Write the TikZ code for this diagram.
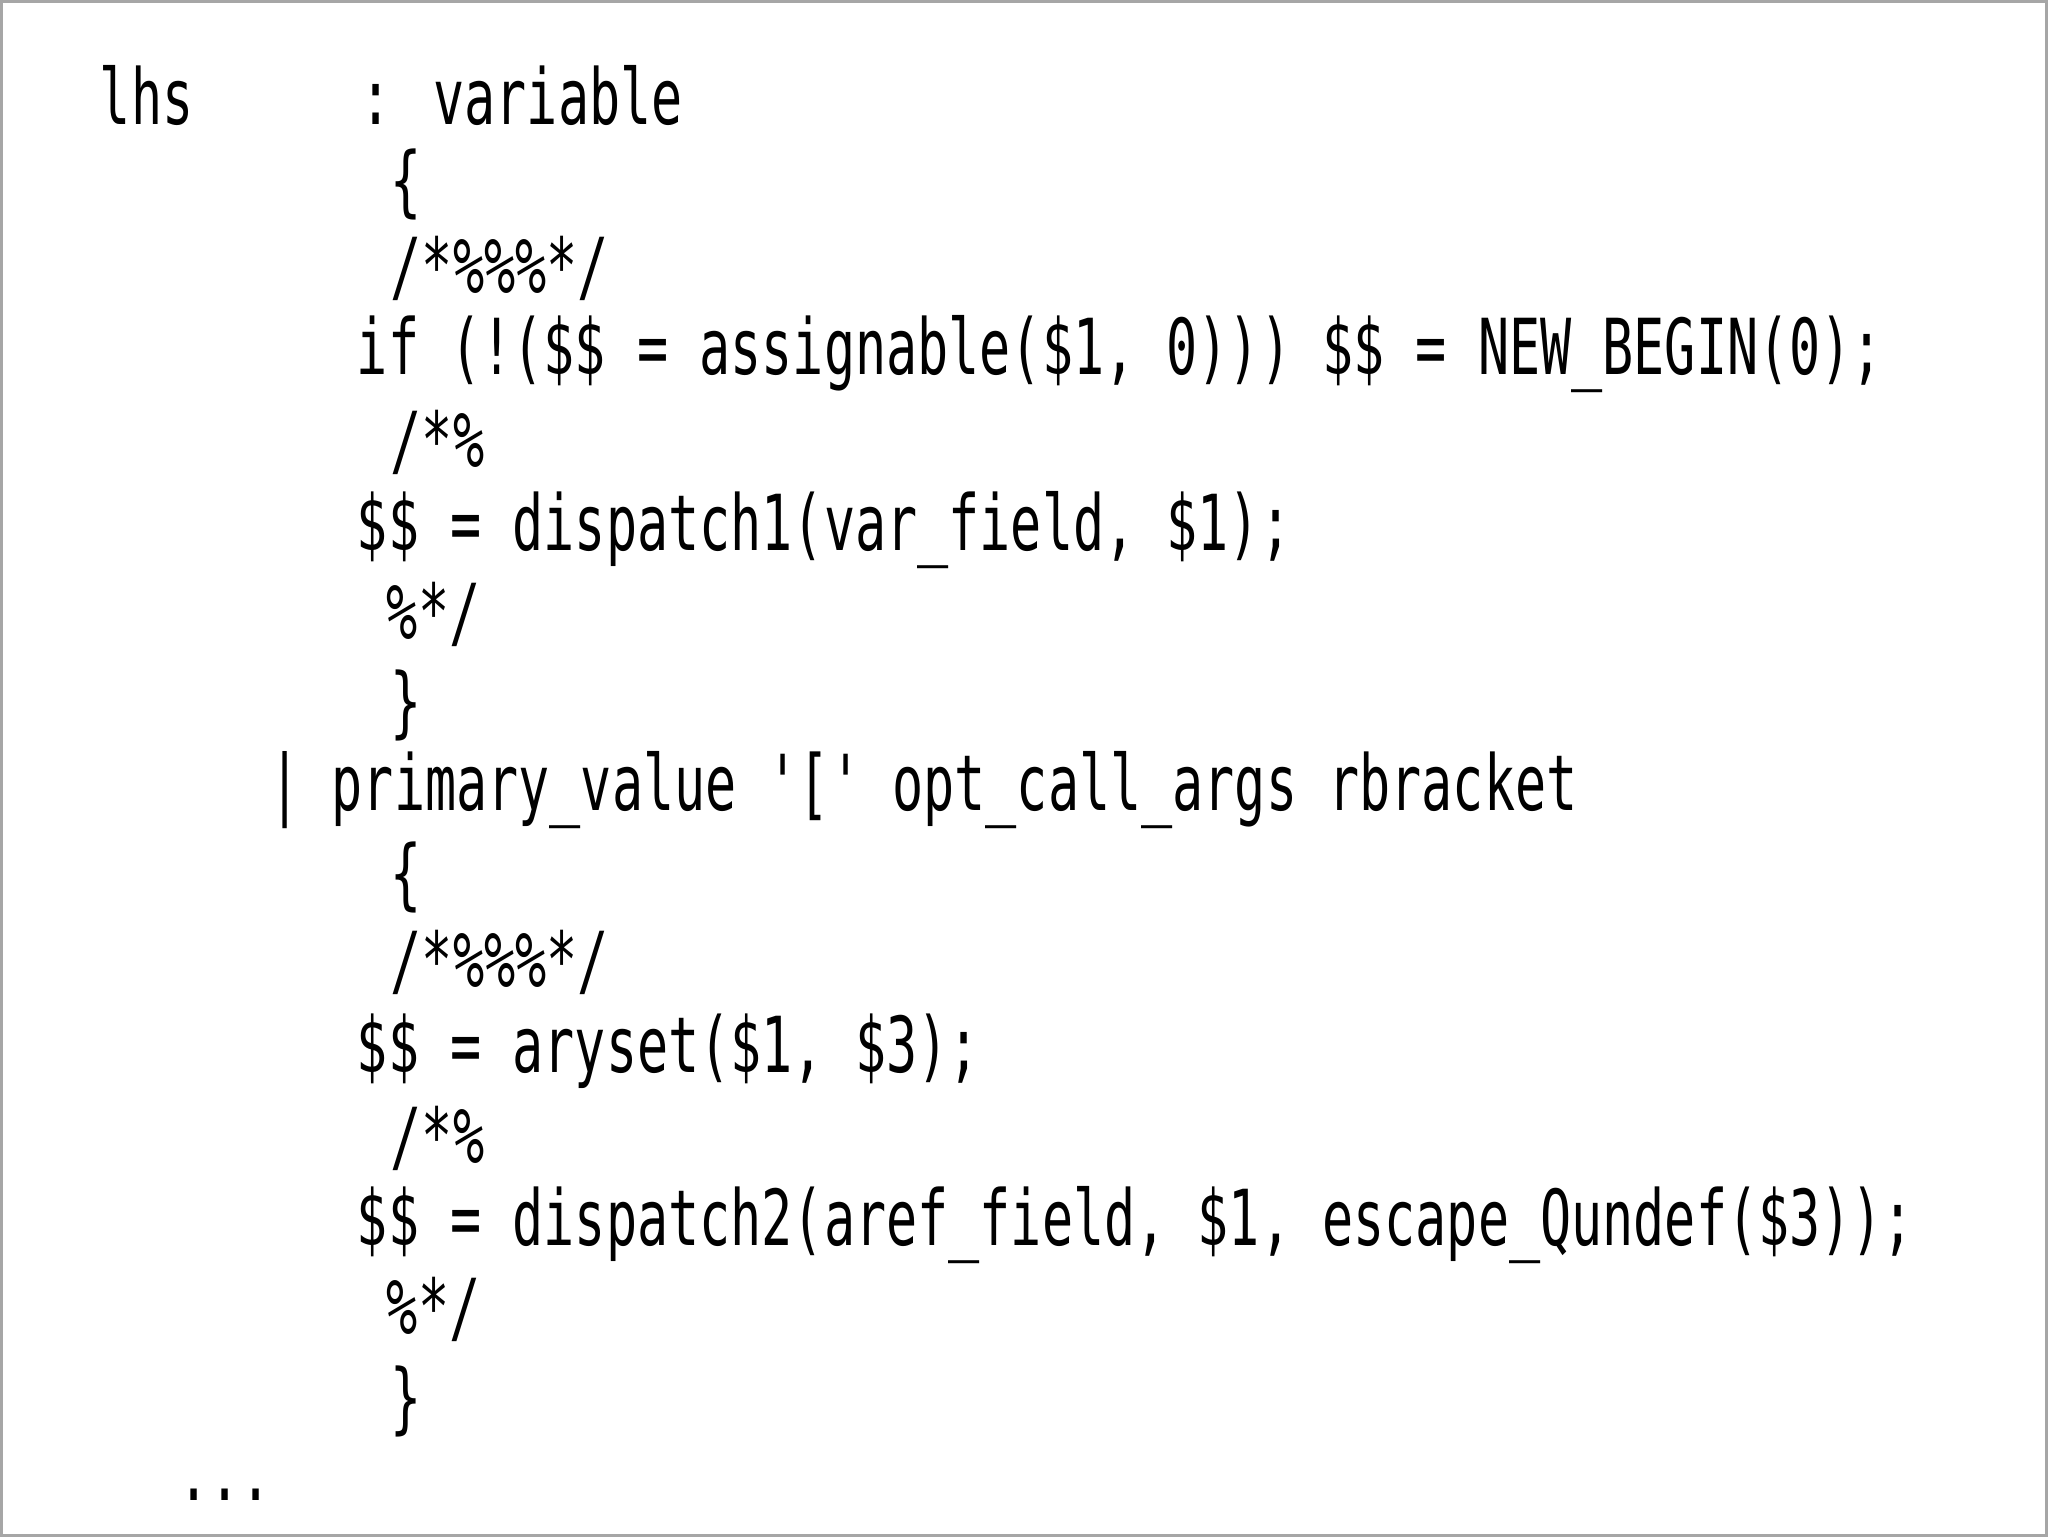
\documentclass[tikz,border=0pt]{standalone}
\usepackage{fontspec}
\newfontfamily\codefont[FakeStretch=0.67]{DejaVu Sans Mono}
\begin{document}
\begin{tikzpicture}[x=0.013061cm,y=-0.013061cm,
  code/.style={anchor=west,inner sep=0pt,font=\codefont\fontsize{22}{26}\selectfont}]
\draw[gray!70,line width=0.8pt,fill=white] (0,0) rectangle (1568,1176);
\node[code] (l1a) at (75,72) {lhs};
\node[code] (l1b) at (275,72) {: variable};
\node[code] (l2) at (298,140) {\{};
\node[code] (l3) at (298,205) {/*\%\%\%*/};
\node[code] (l4) at (272,270) {if (!(\$\$ = assignable(\$1, 0))) \$\$ = NEW\_BEGIN(0);};
\node[code] (l5) at (298,338) {/*\%};
\node[code] (l6) at (272,405) {\$\$ = dispatch1(var\_field, \$1);};
\node[code] (l7) at (295,470) {\%*/};
\node[code] (l8) at (298,540) {\}};
\node[code] (l9) at (205,605) {| primary\_value '[' opt\_call\_args rbracket};
\node[code] (l10) at (298,672) {\{};
\node[code] (l11) at (298,737) {/*\%\%\%*/};
\node[code] (l12) at (272,805) {\$\$ = aryset(\$1, \$3);};
\node[code] (l13) at (298,872) {/*\%};
\node[code] (l14) at (272,938) {\$\$ = dispatch2(aref\_field, \$1, escape\_Qundef(\$3));};
\node[code] (l15) at (295,1003) {\%*/};
\node[code] (l16) at (298,1073) {\}};
\node[code] (l17) at (135,1145) {...};
\end{tikzpicture}
\end{document}
